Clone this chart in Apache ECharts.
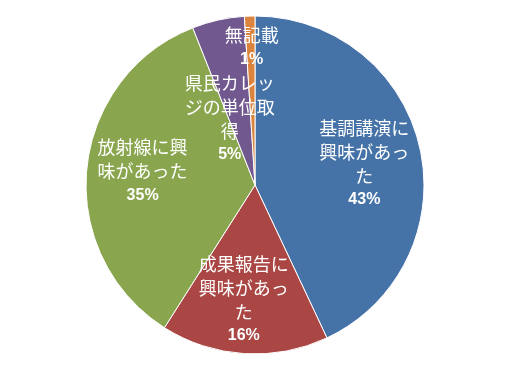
<!DOCTYPE html>
<html>
<head>
<meta charset="utf-8">
<script src="https://cdn.jsdelivr.net/npm/echarts@6/dist/echarts.min.js"></script>
<style>html,body{margin:0;padding:0;background:#fff}#c{width:508px;height:369px}</style>
</head>
<body>
<div id="c"></div>
<script>
var categories = ['基調講演に興味があった', '成果報告に興味があった', '放射線に興味があった', '県民カレッジの単位取得', '無記載'];
var values = [43, 16, 35, 5, 1];
var colors = ['#4572A7', '#AA4643', '#89A54E', '#71588F', '#DB843D'];
// label distance from pie centre as a fraction of the radius, plus small nudges
var labelRadius = [0.657, 0.68, 0.668, 0.414, 0.814];
var labelNudgeX = [1, -4, 0, -10, 1];
var labelNudgeY = [3, 0, -3, 2, 0];

var CX = 255, CY = 185, R = 169;

function wrap(s, n) {
  var out = [];
  for (var i = 0; i < s.length; i += n) out.push(s.slice(i, i + n));
  return out;
}

var total = values.reduce(function (a, b) { return a + b; }, 0);
var midAngles = [];
(function () {
  var acc = 0;
  for (var i = 0; i < values.length; i++) {
    midAngles.push((acc + values[i] / 2) / total * Math.PI * 2);
    acc += values[i];
  }
})();

var chart = echarts.init(document.getElementById('c'));
chart.setOption({
  backgroundColor: '#ffffff',
  animation: false,
  series: [{
    type: 'pie',
    center: [CX, CY],
    radius: R,
    startAngle: 90,
    clockwise: true,
    data: categories.map(function (c, i) {
      return { name: c, value: values[i], itemStyle: { color: colors[i] } };
    }),
    itemStyle: { borderColor: '#ffffff', borderWidth: 1 },
    label: {
      show: true,
      position: 'inside',
      color: '#ffffff',
      align: 'center',
      verticalAlign: 'middle',
      formatter: function (p) {
        return '{n|' + wrap(p.name, 5).join('}\n{n|') + '}\n{p|' + p.value + '%}';
      },
      rich: {
        n: { fontFamily: 'Noto Sans CJK JP', fontSize: 18, lineHeight: 24, color: '#ffffff' },
        p: { fontFamily: 'Liberation Sans', fontWeight: 'bold', fontSize: 16, lineHeight: 24, color: '#ffffff' }
      }
    },
    labelLine: { show: false },
    emphasis: { disabled: true },
    labelLayout: function (params) {
      var i = params.dataIndex;
      var a = midAngles[i], rr = labelRadius[i] * R;
      return {
        x: CX + rr * Math.sin(a) + labelNudgeX[i],
        y: CY - rr * Math.cos(a) + labelNudgeY[i],
        align: 'center',
        verticalAlign: 'middle'
      };
    }
  }]
});
</script>
</body>
</html>
